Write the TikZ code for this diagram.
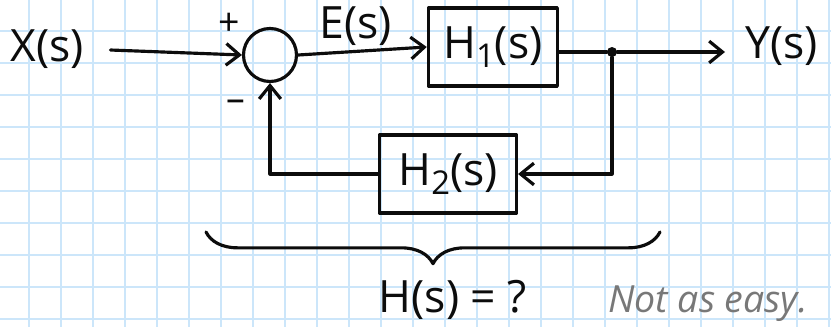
\documentclass[tikz,border=0pt]{standalone}
\usepackage{fontspec}
\setmainfont{Open Sans}
\usepackage{xcolor}
\usepackage{tikz}
\usetikzlibrary{arrows.meta,positioning,decorations.pathreplacing}
\definecolor{paperBlue}{RGB}{204,230,250}
\definecolor{inkBlack}{RGB}{12,12,12}
\definecolor{inkGray}{RGB}{120,120,120}
\newcommand{\lowidx}[1]{\raisebox{-0.35ex}{\fontsize{28}{28}\selectfont #1}}

\begin{document}
\begin{tikzpicture}[
    x=0.03cm, y=-0.03cm,
    ink/.style={draw=inkBlack, line width=2.7pt, line cap=round, line join=round},
    hand/.style={font=\fontsize{38}{40}\selectfont, text=inkBlack, inner sep=0pt},
    block/.style={rectangle, ink, minimum width=3.87cm, minimum height=2.34cm, hand},
    sumnode/.style={circle, ink, minimum size=1.59cm, inner sep=0pt},
    sign/.style={font=\fontsize{32}{32}\selectfont, text=inkBlack, inner sep=0pt},
    arrow/.style={ink, -{Straight Barb[length=4mm, width=6.5mm]}},
    gridline/.style={draw=paperBlue, line width=2.2pt}
]
\path[fill=white] (0,0) rectangle (831,327);
\clip (0,0) rectangle (831,327);
% squared paper
\foreach \k in {0,...,26} \draw[gridline] (-3+32*\k,0) -- (-3+32*\k,327);
\foreach \k in {0,...,10} \draw[gridline] (0,-1+32*\k) -- (831,-1+32*\k);

\node[hand] (xin) at (47,49) {X(s)};
\node[sumnode] (sum) at (270,55) {};
\node[sign] (plus) at (229,24) {+};
\node[sign] (minus) at (236,106) {–};
\node[block, right=3.86cm of sum, yshift=0.24cm] (h1) {H\lowidx{1}(s)};
\node[hand] (err) at (356,26) {E(s)};
\node[circle, fill=inkBlack, minimum size=0.3cm, inner sep=0pt] (jn) at (612,52) {};
\node[hand, anchor=west] (yout) at (745,46) {Y(s)};
\node[block, minimum width=4.11cm] (h2) at (448,174) {H\lowidx{2}(s)};
\coordinate (bl) at (206,232);
\coordinate (br) at (660,232);
\node[hand] (hs) at (453,300) {H(s) = ?};
\node[hand, text=inkGray, font=\fontsize{32}{36}\selectfont\itshape] (note) at (708,304) {Not as easy.};

\draw[arrow, shorten <=0.8cm] (xin.east) -- (sum.west);
\draw[arrow] (sum.east) -- (h1.west);
\draw[ink] (h1.east |- jn) -- (jn);
\draw[arrow, shorten >=0.6cm] (jn) -- (jn -| yout.west);
\draw[arrow] (jn) |- (h2.east);
\draw[arrow] (h2.west) -| (sum.south);
\draw[ink, decorate, decoration={brace, mirror, amplitude=0.95cm}] (bl) -- (br);
\end{tikzpicture}
\end{document}
